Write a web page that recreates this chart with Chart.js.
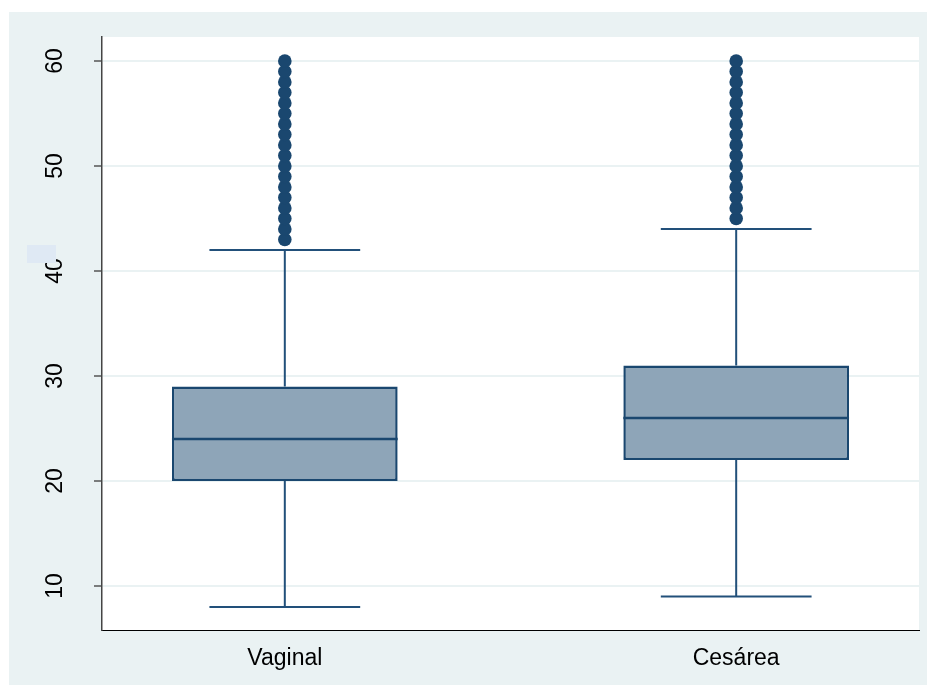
<!DOCTYPE html>
<html>
<head>
<meta charset="utf-8">
<script src="https://cdn.jsdelivr.net/npm/chart.js@4/dist/chart.umd.min.js"></script>
<style>
    html, body { margin: 0; padding: 0; background: #ffffff; }
    .graph-region {
        position: absolute;
        left: 9px;
        top: 12px;
        width: 918px;
        height: 673px;
        background: #eaf2f3;
    }
</style>
</head>
<body>
<div class="graph-region">
    <canvas id="boxChart" width="918" height="673"></canvas>
</div>
<script>
// categories and box statistics
const categories = ['Vaginal', 'Cesárea'];
const lowerWhisker = [8, 9];
const q1 = [20, 22];
const medians = [24, 26];
const q3 = [29, 31];
const upperWhisker = [42, 44];
const outliersVaginal = [43, 44, 45, 46, 47, 48, 49, 50, 51, 52, 53, 54, 55, 56, 57, 58, 59, 60];
const outliersCesarea = [45, 46, 47, 48, 49, 50, 51, 52, 53, 54, 55, 56, 57, 58, 59, 60];
const yTicks = [10, 20, 30, 40, 50, 60];

const navy = '#1a476f';
const boxFill = '#8ea5b8';
const fontFamily = 'Liberation Sans, Arial, sans-serif';
const halfBox = 0.25;
const halfCap = 0.167;

// helpers: build segment lists separated by gaps
const segments = list => {
    const out = [];
    list.forEach(([a, b]) => {
        out.push(a, b, { x: b.x, y: null });
    });
    return out;
};

const medianLines = segments(categories.map((c, i) => [
    { x: i + 1 - halfBox, y: medians[i] }, { x: i + 1 + halfBox, y: medians[i] }
]));

const whiskerLines = segments(categories.flatMap((c, i) => [
    [{ x: i + 1, y: q3[i] }, { x: i + 1, y: upperWhisker[i] }],
    [{ x: i + 1, y: q1[i] }, { x: i + 1, y: lowerWhisker[i] }],
    [{ x: i + 1 - halfCap, y: upperWhisker[i] }, { x: i + 1 + halfCap, y: upperWhisker[i] }],
    [{ x: i + 1 - halfCap, y: lowerWhisker[i] }, { x: i + 1 + halfCap, y: lowerWhisker[i] }]
]));

const outlierPoints = [
    ...outliersVaginal.map(v => ({ x: 1, y: v })),
    ...outliersCesarea.map(v => ({ x: 2, y: v }))
];

// white plot region, rotated y labels, and the stray patch next to "40"
const stataLook = {
    id: 'stataLook',
    beforeDraw(chart) {
        const { ctx, chartArea } = chart;
        ctx.save();
        ctx.fillStyle = '#ffffff';
        ctx.fillRect(chartArea.left, chartArea.top, chartArea.right - chartArea.left, chartArea.bottom - chartArea.top);
        ctx.restore();
    },
    afterDraw(chart) {
        const ctx = chart.ctx;
        const yScale = chart.scales.y;
        ctx.save();
        ctx.fillStyle = '#000000';
        ctx.font = `23px ${fontFamily}`;
        ctx.textAlign = 'center';
        ctx.textBaseline = 'middle';
        yTicks.forEach(v => {
            ctx.save();
            ctx.translate(46, yScale.getPixelForValue(v));
            ctx.rotate(-Math.PI / 2);
            ctx.fillText(String(v), 0, 1);
            ctx.restore();
        });
        ctx.fillStyle = '#dfe9f4';
        ctx.fillRect(18, 233, 29, 18);
        ctx.restore();
    }
};

const ctx = document.getElementById('boxChart').getContext('2d');
new Chart(ctx, {
    type: 'bar',
    data: {
        datasets: [
            {
                type: 'scatter',
                data: outlierPoints,
                backgroundColor: navy,
                borderWidth: 0,
                pointRadius: 6.8,
                order: 1
            },
            {
                type: 'line',
                data: medianLines,
                borderColor: navy,
                borderWidth: 2.5,
                pointRadius: 0,
                spanGaps: false,
                order: 2
            },
            {
                type: 'bar',
                data: categories.map((c, i) => ({ x: i + 1, y: [q1[i], q3[i]] })),
                backgroundColor: boxFill,
                borderColor: navy,
                borderWidth: 2.5,
                borderSkipped: false,
                barPercentage: 0.5,
                categoryPercentage: 1,
                order: 3
            },
            {
                type: 'line',
                data: whiskerLines,
                borderColor: '#22507a',
                borderWidth: 2,
                pointRadius: 0,
                spanGaps: false,
                order: 4
            }
        ]
    },
    options: {
        responsive: false,
        animation: false,
        devicePixelRatio: 1,
        layout: { padding: { top: 25, right: 8, left: 0, bottom: 0 } },
        plugins: {
            legend: { display: false },
            tooltip: { enabled: false }
        },
        scales: {
            x: {
                type: 'linear',
                offset: false,
                min: 0.595,
                max: 2.405,
                afterBuildTicks: scale => { scale.ticks = categories.map((c, i) => ({ value: i + 1 })); },
                afterFit: scale => { scale.height = 55; },
                grid: { display: false, offset: false },
                border: { display: true, color: '#000000', width: 1 },
                ticks: {
                    callback: v => categories[v - 1],
                    color: '#000000',
                    padding: 7,
                    maxRotation: 0,
                    font: { family: fontFamily, size: 23 }
                }
            },
            y: {
                min: 5.81,
                max: 62.29,
                afterBuildTicks: scale => { scale.ticks = yTicks.map(v => ({ value: v })); },
                afterFit: scale => { scale.width = 93; },
                grid: { color: '#eaf2f3', lineWidth: 2, tickColor: '#555555', tickLength: 8, tickWidth: 1.5 },
                border: { display: true, color: '#444444', width: 1.5 },
                ticks: { display: false }
            }
        }
    },
    plugins: [stataLook]
});
</script>
</body>
</html>
